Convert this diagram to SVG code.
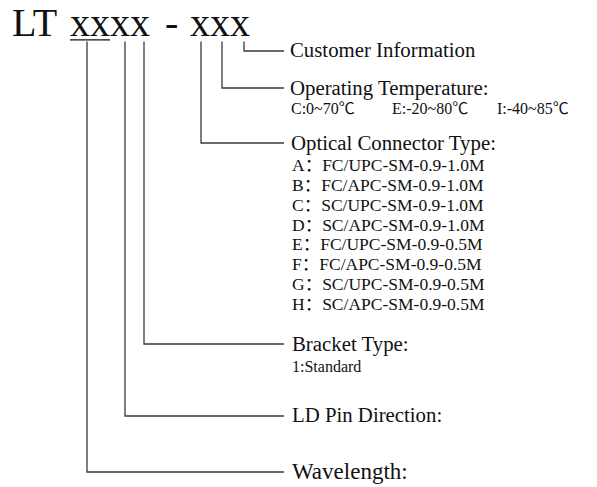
<svg xmlns="http://www.w3.org/2000/svg" width="597" height="487" viewBox="0 0 597 487">
  <style>
    text { font-family: "Liberation Serif", "Noto Sans CJK SC", serif; fill: #111; }
    .code { font-size: 40px; }
    .head { font-size: 20.8px; }
    .item { font-size: 17.5px; }
    .small { font-size: 16px; }
    .conn { fill: none; stroke: #3a3a3a; stroke-width: 1.3; }
  </style>
  <rect width="597" height="487" fill="#fff"/>

  <!-- part number -->
  <g id="part-number">
    <text class="code" y="35.8"><tspan x="12">LT</tspan><tspan x="70">xxxx</tspan><tspan x="165">-</tspan><tspan x="190">xxx</tspan></text>
    <line x1="70" y1="39.8" x2="110" y2="39.8" stroke="#111" stroke-width="1.3"/>
  </g>

  <!-- leader lines from each code position -->
  <g id="connectors" class="conn">
    <path d="M87,41.5 V472 H284"/>
    <path d="M125,41.5 V416 H284"/>
    <path d="M144,41.5 V344 H284"/>
    <path d="M201,41.5 V143 H284"/>
    <path d="M222,41.5 V88 H284"/>
    <path d="M244,41.5 V51 H284"/>
  </g>

  <g id="customer-info">
    <text class="head" x="290" y="57">Customer Information</text>
  </g>

  <g id="operating-temperature">
    <text class="head" x="290" y="94.5">Operating Temperature:</text>
    <text class="small" y="114"><tspan x="291">C:0~70℃</tspan><tspan x="392">E:-20~80℃</tspan><tspan x="497">I:-40~85℃</tspan></text>
  </g>

  <g id="connector-type">
    <text class="head" x="291" y="150">Optical Connector Type:</text>
    <text class="item" x="292" y="171">A：FC/UPC-SM-0.9-1.0M</text>
    <text class="item" x="292" y="190.9">B：FC/APC-SM-0.9-1.0M</text>
    <text class="item" x="292" y="210.7">C：SC/UPC-SM-0.9-1.0M</text>
    <text class="item" x="292" y="230.6">D：SC/APC-SM-0.9-1.0M</text>
    <text class="item" x="292" y="250.4">E：FC/UPC-SM-0.9-0.5M</text>
    <text class="item" x="292" y="270.3">F：FC/APC-SM-0.9-0.5M</text>
    <text class="item" x="292" y="290.2">G：SC/UPC-SM-0.9-0.5M</text>
    <text class="item" x="292" y="310">H：SC/APC-SM-0.9-0.5M</text>
  </g>

  <g id="bracket-type">
    <text class="head" x="292" y="351">Bracket Type:</text>
    <text class="small" x="292" y="372">1:Standard</text>
  </g>

  <g id="ld-pin-direction">
    <text class="head" x="292" y="422">LD Pin Direction:</text>
  </g>

  <g id="wavelength">
    <text x="292" y="479" font-size="23">Wavelength:</text>
  </g>
</svg>
